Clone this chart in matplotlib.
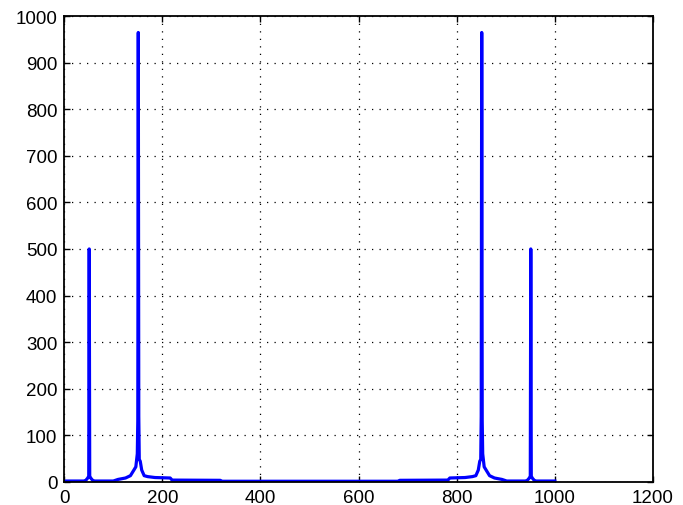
import matplotlib
matplotlib.use('Agg')
import matplotlib.pyplot as plt

# magnitude spectrum (bin index, magnitude)
bins = [1, 40, 44, 48, 50, 51, 52, 54, 58, 62,
        100, 110, 125, 135, 142, 146, 149, 150, 151, 152, 153, 155, 158, 163,
        170, 185, 216, 220, 318, 322,
        680, 684, 782, 786, 817, 832,
        839, 844, 847, 849, 850, 851, 852, 853, 856, 860, 867, 877, 892, 902,
        940, 944, 948, 950, 951, 952, 954, 958, 962, 1000]
mags = [1.5, 1.5, 3, 8, 12, 500, 12, 8, 3, 1.5,
        1.5, 5, 8, 13, 25, 32, 60, 130, 965, 140, 48, 44, 25, 13,
        11, 9, 8, 3.5, 3, 1,
        1, 3, 3.5, 8, 9, 11,
        13, 25, 44, 48, 140, 965, 130, 60, 32, 25, 13, 8, 5, 1.5,
        1.5, 3, 8, 12, 500, 12, 8, 3, 1.5, 1.5]

plt.rcParams['font.family'] = ['Liberation Sans', 'DejaVu Sans']

fig = plt.figure(figsize=(6.83, 5.06), dpi=100)
ax = fig.add_axes([0.094, 0.046, 0.862, 0.920])

ax.plot(bins, mags, color='#0000ff', linewidth=2.3)

ax.set_xlim(0, 1200)
ax.set_ylim(0, 1000)
ax.set_xticks(range(0, 1201, 200))
ax.set_yticks(range(0, 1001, 100))
ax.grid(True, color='black', linestyle=(0, (1, 5)), linewidth=0.9)
ax.tick_params(direction='in', length=4, width=1, labelsize=13.5,
               top=True, right=True, pad=5)
for s in ax.spines.values():
    s.set_linewidth(1.3)

fig.savefig('out.png', dpi=100)
